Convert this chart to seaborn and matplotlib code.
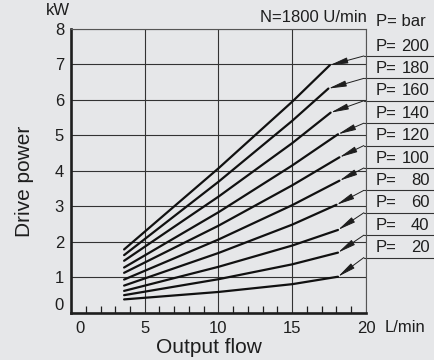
import numpy as np
import pandas as pd
import matplotlib.pyplot as plt
import matplotlib.transforms as mtransforms
import seaborn as sns

# ── Data ──────────────────────────────────────────────────────────────────────
pressures   = [200, 180, 160, 140, 120, 100, 80, 60, 40, 20]          # bar
flow_start  = [3.6, 3.6, 3.6, 3.6, 3.6, 3.6, 3.6, 3.6, 3.6, 3.6]      # L/min
power_start = [1.78, 1.62, 1.46, 1.27, 1.12, 0.93, 0.76, 0.61, 0.49, 0.37]
flow_mid1   = [10, 10, 10, 10, 10, 10, 10, 10, 10, 10]
power_mid1  = [4.07, 3.69, 3.27, 2.83, 2.45, 2.06, 1.68, 1.29, 0.94, 0.58]
flow_mid2   = [15, 15, 15, 15, 15, 15, 15, 15, 15, 15]
power_mid2  = [5.95, 5.41, 4.78, 4.15, 3.59, 3.03, 2.48, 1.89, 1.36, 0.80]
flow_end    = [17.55, 17.45, 17.6, 18.1, 18.2, 18.2, 18.0, 18.1, 18.1, 18.1]
power_end   = [6.98, 6.32, 5.64, 5.03, 4.38, 3.72, 3.04, 2.33, 1.69, 1.01]

x_major = [0, 5, 10, 15, 20]
x_minor = [1, 2, 3, 4, 6, 7, 8, 9, 11, 12, 13, 14, 16, 17, 18, 19]
y_major = [0, 1, 2, 3, 4, 5, 6, 7, 8]

rows = []
for i, p in enumerate(pressures):
    for fx, py in zip(
        [flow_start[i], flow_mid1[i], flow_mid2[i], flow_end[i]],
        [power_start[i], power_mid1[i], power_mid2[i], power_end[i]],
    ):
        rows.append({"pressure": p, "flow": fx, "power": py})
df = pd.DataFrame(rows)

# ── Style ──────────────────────────────────────────────────────────────────────
BG  = "#e6e7e9"
INK = "#1e1e1e"
sns.set_theme(style="white", rc={
    "figure.facecolor": BG,
    "axes.facecolor": BG,
    "text.color": INK,
    "axes.labelcolor": INK,
    "xtick.color": INK,
    "ytick.color": INK,
})
plt.rcParams["font.family"] = ["Liberation Sans", "DejaVu Sans"]

fig = plt.figure(figsize=(4.34, 3.6), dpi=100)
ax = fig.add_axes([0.1636, 0.1319, 0.6797, 0.7875])

sns.lineplot(data=df, x="flow", y="power", units="pressure", estimator=None,
             sort=False, color="#111111", lw=1.6, legend=False, ax=ax)

ax.set_xlim(0, 20)
ax.set_ylim(0, 8)
ax.set_xticks(x_major)
ax.set_xticks(x_minor, minor=True)
ax.set_yticks(y_major)
ax.grid(True, which="major", color="#333333", lw=0.8)
ax.tick_params(which="major", length=0, labelsize=12, labelcolor=INK)
ax.tick_params(axis="x", which="major", pad=6)
ax.tick_params(axis="y", which="major", pad=5)
ax.tick_params(axis="x", which="minor", direction="in", length=5, width=0.9,
               color=INK, bottom=True, top=False)

for side in ["left", "bottom"]:
    ax.spines[side].set_linewidth(1.9)
    ax.spines[side].set_color(INK)
for side in ["top", "right"]:
    ax.spines[side].set_linewidth(0.8)
    ax.spines[side].set_color("#555555")

# nudge the "0" tick labels away from the corner
lbl = ax.get_xticklabels()[0]
lbl.set_transform(lbl.get_transform() + mtransforms.ScaledTranslation(0.09, 0, fig.dpi_scale_trans))
lbl = ax.get_yticklabels()[0]
lbl.set_transform(lbl.get_transform() + mtransforms.ScaledTranslation(0, 0.09, fig.dpi_scale_trans))

ax.set_xlabel("Output flow", fontsize=15)
ax.set_ylabel("Drive power", fontsize=15)
ax.xaxis.set_label_coords(0.468, -0.090)
ax.yaxis.set_label_coords(-0.125, 0.463)

ax.text(-0.88, 8.51, "kW", ha="center", va="center", fontsize=12, clip_on=False)
ax.text(21.28, -0.42, "L/min", ha="left", va="center", fontsize=12, clip_on=False)
ax.text(20.07, 8.33, "N=1800 U/min", ha="right", va="center", fontsize=12, clip_on=False)
ax.text(20.68, 8.22, "P= bar", ha="left", va="center", fontsize=12, clip_on=False)

# ── Pressure labels with leader arrows ─────────────────────────────────────────
for i, p in enumerate(pressures):
    sy = 7.24 - 0.632 * i
    ax.plot([19.86, 24.8], [sy, sy], color="#333333", lw=0.8, clip_on=False)
    ax.text(20.68, sy + 0.28, "P=", ha="left", va="center", fontsize=12, clip_on=False)
    ax.text(24.3, sy + 0.28, str(p), ha="right", va="center", fontsize=12, clip_on=False)
    ax.annotate("", xy=(flow_end[i], power_end[i]), xytext=(19.86, sy),
                arrowprops=dict(arrowstyle="-|>,head_length=0.9,head_width=0.15",
                                lw=0.7, color=INK, shrinkA=0, shrinkB=0))

ax.set_xlim(0, 20)
ax.set_ylim(0, 8)

plt.savefig("out.png", dpi=100, facecolor=BG)
